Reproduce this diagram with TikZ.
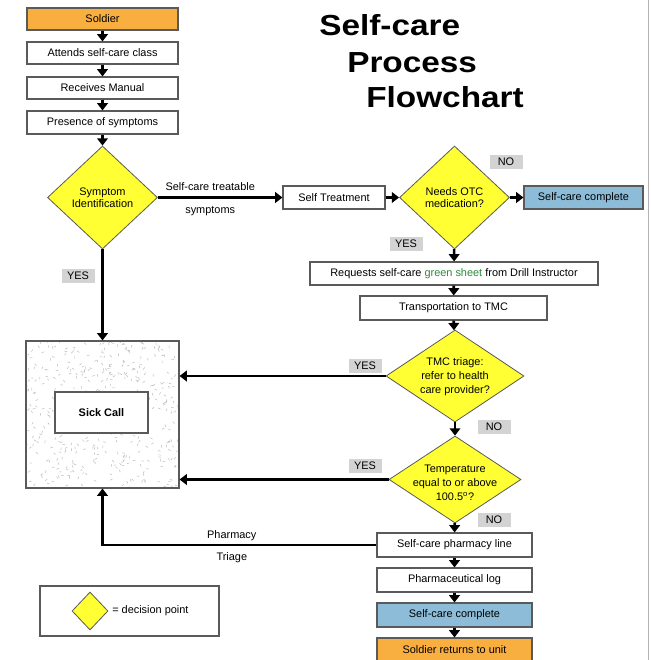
\documentclass[tikz,border=0pt]{standalone}
\usepackage{fontspec}
\setmainfont{Liberation Sans}
\usetikzlibrary{shapes.geometric,arrows.meta}
\definecolor{orangeF}{RGB}{249,174,64}
\definecolor{blueF}{RGB}{140,188,216}
\definecolor{yelF}{RGB}{255,255,51}
\definecolor{labG}{RGB}{211,211,211}
\definecolor{greenT}{RGB}{40,140,60}
\definecolor{edgeG}{RGB}{90,90,90}
\tikzset{
 sz/.style 2 args={minimum width=#1*0.75pt, minimum height=#2*0.75pt},
 box/.style={draw=edgeG, line width=0.8pt, fill=white, inner sep=0pt, font=\fontsize{8.2pt}{10pt}\selectfont},
 dia/.style={diamond, draw=edgeG, line width=0.6pt, fill=yelF, inner sep=0pt},
 dtext/.style={align=center, inner sep=0pt, font=\fontsize{8.2pt}{9pt}\selectfont},
 dtextb/.style={align=center, inner sep=0pt, font=\fontsize{8.2pt}{10.5pt}\selectfont},
 tag/.style={fill=labG, minimum width=24.75pt, minimum height=10.5pt, inner sep=0pt, font=\fontsize{8.2pt}{10pt}\selectfont},
 conn/.style={line width=2pt, -{Triangle[width=8pt,length=5.5pt]}},
 lbl/.style={font=\fontsize{8.2pt}{10pt}\selectfont, inner sep=0pt},
 ttl/.style={anchor=base west, inner sep=0pt, font=\bfseries\fontsize{21.75pt}{26pt}\selectfont}
}
\begin{document}
\begin{tikzpicture}[x=0.75pt,y=-0.75pt]
\useasboundingbox (0,0) rectangle (650,660);
\draw[gray!60, line width=0.8pt] (648.5,0) -- (648.5,660);

% title
\node[ttl] (t1) at (319,36) {\scalebox{1.15}[1]{Self-care}};
\node[ttl] (t2) at (347,73) {\scalebox{1.15}[1]{Process}};
\node[ttl] (t3) at (366,108) {\scalebox{1.15}[1]{Flowchart}};

% left column
\node[box, fill=orangeF, sz={151}{22}] (soldier) at (102.5,19) {Soldier};
\node[box, sz={151}{22}] (attends) at (102.5,53) {Attends self-care class};
\node[box, sz={151}{22}] (manual) at (102.5,88) {Receives Manual};
\node[box, sz={151}{23}] (presence) at (102.5,122.5) {Presence of symptoms};
\node[dia, sz={110}{103}] (sympt) at (102.5,197.5) {};
\node[dtext] (symptt) at (102.5,197.5) {Symptom\\Identification};

% sick call
\node[draw=edgeG, line width=0.8pt, fill=white, sz={153}{147}] (sick) at (102.5,414.5) {};
\begin{scope}
\clip (27.5,342.5) rectangle (177.5,486.5);
\pgfmathsetseed{11}
\foreach \i in {1,...,520}{
  \pgfmathsetmacro{\xa}{24+rnd*156}
  \pgfmathsetmacro{\ya}{339+rnd*150}
  \pgfmathsetmacro{\an}{rnd*180}
  \draw[gray!55, line width=0.35pt] (\xa,\ya) -- ++(\an:2.6);
}
\end{scope}
\node[box, sz={93}{41}] (sickin) at (101.5,412.5) {\textbf{Sick Call}};

% right column
\node[box, sz={102}{23}] (selftreat) at (334,197.5) {Self Treatment};
\node[dia, sz={110}{103}] (otc) at (454.5,197.5) {};
\node[dtext] (otct) at (454.5,197.5) {Needs OTC\\medication?};
\node[box, fill=blueF, sz={119}{23}] (done1) at (583.5,197.5) {Self-care complete};
\node[box, sz={288}{23}] (request) at (454,273.5) {Requests self-care \textcolor{greenT}{green sheet} from Drill Instructor};
\node[box, sz={187}{24}] (transport) at (453.5,308) {Transportation to TMC};
\node[dia, sz={138}{92}] (tmc) at (455,376) {};
\node[dtextb] (tmct) at (455,377) {TMC triage:\\refer to health\\care provider?};
\node[dia, sz={132}{87}] (temp) at (455,479.5) {};
\node[dtextb] (tempt) at (455,483) {Temperature\\equal to or above\\100.5\textsuperscript{o}?};
\node[box, sz={155}{24}] (pharm) at (454.5,545) {Self-care pharmacy line};
\node[box, sz={155}{24}] (log) at (454.5,580) {Pharmaceutical log};
\node[box, fill=blueF, sz={155}{24}] (done2) at (454.5,615) {Self-care complete};
\node[box, fill=orangeF, sz={155}{24}] (returns) at (454.5,650) {Soldier returns to unit};

% tags
\node[tag] (no1) at (506,162) {NO};
\node[tag] (yes1) at (406,243.5) {YES};
\node[tag] (yes0) at (78,276) {YES};
\node[tag] (yes2) at (365,366) {YES};
\node[tag] (no2) at (494,427) {NO};
\node[tag] (yes3) at (365,466) {YES};
\node[tag] (no3) at (494,519.5) {NO};

% connectors
\draw[conn] (soldier) -- (attends);
\draw[conn] (attends) -- (manual);
\draw[conn] (manual) -- (presence);
\draw[conn] (presence) -- (sympt);
\draw[conn] (sympt.east) -- node[lbl, pos=0.42, above=4.5pt] {Self-care treatable} node[lbl, pos=0.42, below=6pt] {symptoms} (selftreat.west);
\draw[conn] (selftreat) -- (otc);
\draw[conn] (otc) -- (done1);
\draw[conn] (otc) -- (request);
\draw[conn] (request) -- (transport);
\draw[conn] (transport) -- (tmc);
\draw[conn] (tmc) -- (temp);
\draw[conn] (temp) -- (pharm);
\draw[conn] (pharm) -- (log);
\draw[conn] (log) -- (done2);
\draw[conn] (done2) -- (returns);
\draw[conn] (sympt.south) -- (sick.north);
\draw[conn] (tmc.west) -- (tmc.west -| sick.east);
\draw[conn] (temp.west) -- (temp.west -| sick.east);
\draw[conn] (pharm.west) -| node[lbl, pos=0.264, above=2.5pt] {Pharmacy} node[lbl, pos=0.264, below=5pt] {Triage} (sick.south);

% legend
\node[box, sz={179}{50}] (legend) at (129.5,611) {};
\node[dia, sz={36}{38}] (ldia) at (90,611) {};
\node[lbl, anchor=west] (ltext) at (112,611) {= decision point};
\end{tikzpicture}
\end{document}
